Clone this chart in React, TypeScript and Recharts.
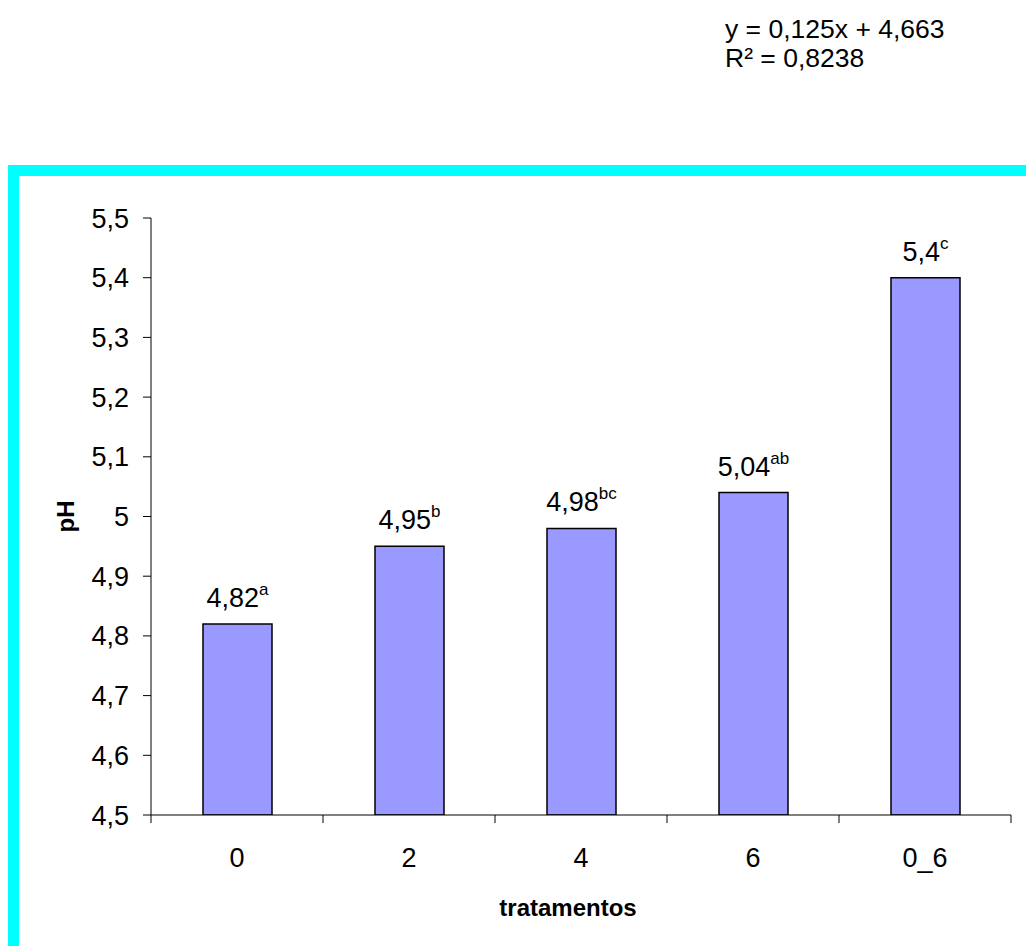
import React from 'react';
import { BarChart, Bar, XAxis, YAxis, LabelList } from 'recharts';

const categories = ['0', '2', '4', '6', '0_6'];
const phValues = [4.82, 4.95, 4.98, 5.04, 5.4];
const letters = ['a', 'b', 'bc', 'ab', 'c'];
const yTicks = [4.5, 4.6, 4.7, 4.8, 4.9, 5.0, 5.1, 5.2, 5.3, 5.4, 5.5];
const equationLines = ['y = 0,125x + 4,663', 'R² = 0,8238'];

const data = categories.map((c, i) => ({ cat: c, ph: phValues[i], letter: letters[i] }));

const FONT = 'Liberation Sans, Arial, sans-serif';
const W = 1026;
const H = 946;
const MARGIN = { top: 218, right: 15, bottom: 0, left: 51 };
const PLOT_W = W - MARGIN.left - MARGIN.right - 100;
const BAND = PLOT_W / categories.length;

const fmt = (v: number) => String(Math.round(v * 10) / 10).replace('.', ',');

const XTick = (props: any) => {
  const { x, y, payload, index } = props;
  const left = x - BAND / 2;
  const right = x + BAND / 2;
  return (
    <g>
      <line x1={left} x2={left} y1={y - 8} y2={y} stroke="#000" strokeWidth={1} />
      {index === categories.length - 1 && (
        <line x1={right} x2={right} y1={y - 8} y2={y} stroke="#000" strokeWidth={1} />
      )}
      <text x={x} y={y + 44} textAnchor="middle" fontSize={27} fontFamily={FONT} fill="#000">
        {payload.value}
      </text>
    </g>
  );
};

const BarLabel = (props: any) => {
  const { x, y, width, index } = props;
  const cx = x + width / 2;
  const v = String(phValues[index]).replace('.', ',');
  return (
    <text x={cx} y={y - 17} textAnchor="middle" fontSize={27} fontFamily={FONT} fill="#000">
      <tspan>{v}</tspan>
      <tspan fontSize={17} dy={-12}>{letters[index]}</tspan>
    </text>
  );
};

export default function App() {
  return (
    <div style={{ position: 'absolute', left: 0, top: 0, width: W, height: H, background: '#fff', overflow: 'hidden' }}>
      <div
        style={{
          position: 'absolute',
          left: 8,
          top: 165,
          width: W - 8,
          height: H - 165,
          borderTop: '11px solid #00FFFF',
          borderLeft: '11px solid #00FFFF',
          boxSizing: 'border-box',
        }}
      />
      <div style={{ position: 'absolute', left: 725, top: 15, fontFamily: FONT, fontSize: 26.5, lineHeight: '29px', color: '#000', whiteSpace: 'pre' }}>
        {equationLines.map((l, i) => (
          <div key={i}>{l}</div>
        ))}
      </div>
      <div style={{ position: 'absolute', left: 0, top: 0 }}>
        <BarChart width={W} height={H} data={data} margin={MARGIN}>
          <XAxis
            dataKey="cat"
            stroke="#000"
            tickLine={false}
            tick={<XTick />}
            interval={0}
            height={131}
            label={{
              content: (p: any) => {
                const vb = p.viewBox;
                return (
                  <text x={vb.x + vb.width / 2 - 13} y={916} textAnchor="middle" fontSize={24} fontWeight="bold" fontFamily={FONT} fill="#000">
                    tratamentos
                  </text>
                );
              },
            }}
          />
          <YAxis
            domain={[4.5, 5.5]}
            ticks={yTicks}
            tickFormatter={fmt}
            stroke="#000"
            width={100}
            tickSize={8}
            tickMargin={14}
            interval={0}
            tick={{ fontSize: 27, fontFamily: FONT, fill: '#000' }}
            allowDataOverflow
            label={{
              content: (p: any) => {
                const vb = p.viewBox;
                const cx = 65;
                const cy = vb.y + vb.height / 2;
                return (
                  <text x={cx} y={cy} transform={`rotate(-90 ${cx} ${cy})`} textAnchor="middle" dominantBaseline="central" fontSize={24} fontWeight="bold" fontFamily={FONT} fill="#000">
                    pH
                  </text>
                );
              },
            }}
          />
          <Bar dataKey="ph" fill="#9999FF" stroke="#000" strokeWidth={1.5} barSize={69} isAnimationActive={false}>
            <LabelList dataKey="ph" content={<BarLabel />} />
          </Bar>
        </BarChart>
      </div>
    </div>
  );
}
